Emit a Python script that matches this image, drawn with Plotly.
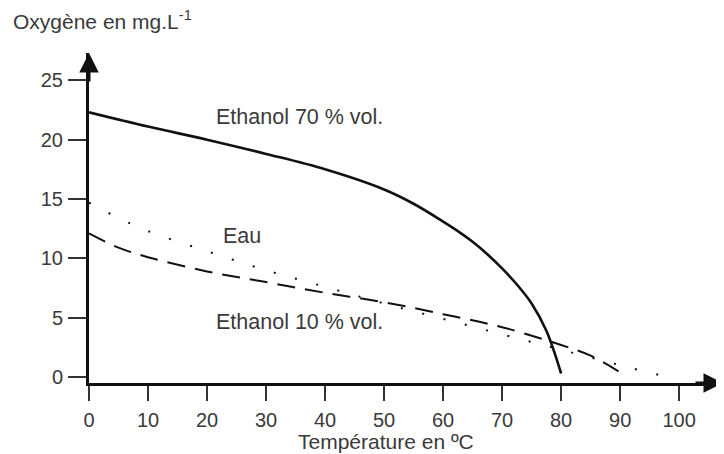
import plotly.graph_objects as go

# Data
eth70_x = [0, 10, 20, 30, 40, 50, 55, 60, 62.5, 65, 67.5, 70, 72.5, 75, 77.5, 80]
eth70_y = [22.3, 21.1, 20.0, 18.8, 17.5, 15.8, 14.6, 13.1, 12.3, 11.4, 10.35, 9.15, 7.8, 6.2, 3.9, 0.3]

eau_x = [0, 5, 10, 20, 30, 40, 50, 60, 70, 80, 90, 98]
eau_y = [14.7, 13.4, 12.3, 10.6, 9.0, 7.6, 6.2, 4.9, 3.6, 2.3, 1.0, 0.0]

eth10_x = [0, 5, 10, 20, 30, 40, 50, 60, 70, 80, 85, 90]
eth10_y = [12.1, 10.9, 10.1, 8.9, 8.0, 7.1, 6.3, 5.3, 4.2, 2.7, 1.8, 0.4]

x_ticks = [0, 10, 20, 30, 40, 50, 60, 70, 80, 90, 100]
y_ticks = [0, 5, 10, 15, 20, 25]

labels = ["Ethanol 70 % vol.", "Eau", "Ethanol 10 % vol."]
x_title = "Température en ºC"
y_title = "Oxygène en mg.L<sup>-1</sup>"

FONT = "Liberation Sans, Arial, sans-serif"
TXT = "#3a3a3a"
INK = "#111111"

fig = go.Figure()
fig.add_trace(go.Scatter(x=eth70_x, y=eth70_y, mode="lines", line=dict(color=INK, width=2.6, shape="spline", smoothing=1), name=labels[0]))
fig.add_trace(go.Scatter(x=eau_x, y=eau_y, mode="lines", line=dict(color=INK, width=2, dash="2px,20px", shape="spline"), name=labels[1]))
fig.add_trace(go.Scatter(x=eth10_x, y=eth10_y, mode="lines", line=dict(color=INK, width=2, dash="18px,10px", shape="spline"), name=labels[2]))

# page body has an 8px margin: figure is 716x446 so it ends at the window edges
fig.update_layout(
    width=716, height=446,
    margin=dict(l=81, r=0, t=45, b=71),
    paper_bgcolor="white", plot_bgcolor="white",
    showlegend=False,
    font=dict(family=FONT, size=20, color=TXT),
)
fig.update_xaxes(
    range=[0, 107.6], tickvals=x_ticks, ticks="outside", ticklen=15, tickwidth=1.5, tickcolor="#333",
    showline=True, linewidth=3, linecolor=INK, showgrid=False, zeroline=False,
    tickfont=dict(size=20, color=TXT), ticklabelstandoff=2,
)
fig.update_yaxes(
    range=[-0.5, 27.3], tickvals=y_ticks, ticks="outside", ticklen=18, tickwidth=1.5, tickcolor="#333",
    showline=True, linewidth=3, linecolor=INK, showgrid=False, zeroline=False,
    tickfont=dict(size=20, color=TXT), ticklabelstandoff=1,
)

ann = []
# axis arrows
ann.append(dict(xref="paper", yref="paper", x=1, y=0, ax=-30, ay=0, showarrow=True,
                arrowhead=2, arrowsize=1.3, arrowwidth=3, arrowcolor=INK, text=""))
ann.append(dict(xref="paper", yref="paper", x=0, y=1, ax=0, ay=30, showarrow=True,
                arrowhead=2, arrowsize=1.3, arrowwidth=3, arrowcolor=INK, text=""))
# curve labels
ann.append(dict(xref="x", yref="y", x=21.1, y=21.95, text=labels[0], showarrow=False, xanchor="left", yanchor="middle", font=dict(size=21.5)))
ann.append(dict(xref="x", yref="y", x=22.4, y=11.9, text=labels[1], showarrow=False, xanchor="left", yanchor="middle", font=dict(size=21.5)))
ann.append(dict(xref="x", yref="y", x=21.1, y=4.63, text=labels[2], showarrow=False, xanchor="left", yanchor="middle", font=dict(size=21.5)))
# axis titles
ann.append(dict(xref="x", yref="paper", x=50.3, y=0, yshift=-58, text=x_title, showarrow=False, xanchor="center", yanchor="middle", font=dict(size=21)))
ann.append(dict(xref="paper", yref="paper", x=0, xshift=-78, y=1, yshift=33, text=y_title, showarrow=False, xanchor="left", yanchor="middle", font=dict(size=21)))
fig.update_layout(annotations=ann)

fig.write_html("out.html")
